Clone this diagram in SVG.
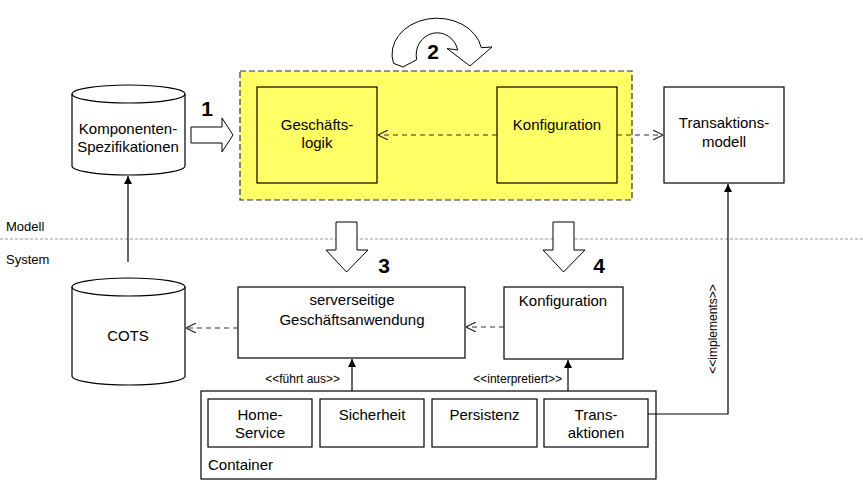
<svg xmlns="http://www.w3.org/2000/svg" width="863" height="480" viewBox="0 0 863 480">
<defs>
<marker id="open" viewBox="0 0 10 10" refX="10" refY="5" markerWidth="10" markerHeight="10" markerUnits="userSpaceOnUse" orient="auto">
<path d="M0,0 L10,5 L0,10" fill="none" stroke="#333" stroke-width="1.2"/>
</marker>
<marker id="solid" viewBox="0 0 10 10" refX="10" refY="5" markerWidth="8" markerHeight="8" markerUnits="userSpaceOnUse" orient="auto">
<path d="M0,0 L10,5 L0,10 Z" fill="#000"/>
</marker>
<style>
text{font-family:"Liberation Sans",Arial,sans-serif;fill:#000}
.lbl{font-size:15px;text-anchor:middle}
.sm{font-size:12px}
.num{font-size:21px;font-weight:bold}
.box{fill:#fff;stroke:#000;stroke-width:1.2}
.ybox{fill:#ffff66;stroke:#000;stroke-width:1.2}
.dash{fill:none;stroke:#333;stroke-width:1.2;stroke-dasharray:5,4}
.line{fill:none;stroke:#000;stroke-width:1.2}
.block{fill:#fff;stroke:#000;stroke-width:1}
</style>
</defs>

<line x1="0" y1="239" x2="863" y2="239" stroke="#999" stroke-width="1" stroke-dasharray="3,2"/>
<text x="6" y="231" font-size="13">Modell</text>
<text x="6" y="264" font-size="13">System</text>

<g id="modell-area">
<rect x="240" y="71" width="392" height="129" fill="#ffff66" stroke="#333" stroke-width="1.2" stroke-dasharray="6,3"/>
</g>
<g id="geschaeftslogik">
<rect class="ybox" x="257" y="87" width="120" height="96"/>
<text class="lbl" x="317" y="130">Geschäfts-</text>
<text class="lbl" x="317" y="148">logik</text>
</g>
<g id="konfiguration-modell">
<rect class="ybox" x="497" y="87" width="120" height="96"/>
<text class="lbl" x="557" y="130">Konfiguration</text>
</g>
<g id="transaktionsmodell">
<rect class="box" x="664" y="87" width="120" height="96"/>
<text class="lbl" x="724" y="128">Transaktions-</text>
<text class="lbl" x="724" y="147">modell</text>
</g>
<g id="komponenten">
<path class="box" d="M72,94 A56.5,9 0 0 1 185,94 L185,166 A56.5,9 0 0 1 72,166 Z"/>
<path class="line" d="M72,94 A56.5,9 0 0 0 185,94"/>
<text class="lbl" x="128" y="134">Komponenten-</text>
<text class="lbl" x="128" y="152">Spezifikationen</text>
</g>
<g id="cots">
<path class="box" d="M72,287 A56.5,9 0 0 1 185,287 L185,376 A56.5,9 0 0 1 72,376 Z"/>
<path class="line" d="M72,287 A56.5,9 0 0 0 185,287"/>
<text class="lbl" x="128" y="341">COTS</text>
</g>
<g id="serverseitige">
<rect class="box" x="238" y="287" width="227" height="71"/>
<text class="lbl" x="352" y="305">serverseitige</text>
<text class="lbl" x="352" y="325">Geschäftsanwendung</text>
</g>
<g id="konfiguration-system">
<rect class="box" x="504" y="287" width="119" height="72"/>
<text class="lbl" x="563" y="306">Konfiguration</text>
</g>
<g id="container">
<rect class="box" x="201" y="391" width="455" height="88"/>
<text x="208" y="470" font-size="15">Container</text>
</g>
<g id="home-service">
<rect class="box" x="208" y="399" width="104" height="48"/>
<text class="lbl" x="260" y="420">Home-</text>
<text class="lbl" x="260" y="438">Service</text>
</g>
<g id="sicherheit">
<rect class="box" x="320" y="399" width="104" height="48"/>
<text class="lbl" x="372" y="420">Sicherheit</text>
</g>
<g id="persistenz">
<rect class="box" x="432" y="399" width="105" height="48"/>
<text class="lbl" x="484.5" y="420">Persistenz</text>
</g>
<g id="transaktionen">
<rect class="box" x="544" y="399" width="104" height="48"/>
<text class="lbl" x="596" y="420">Trans-</text>
<text class="lbl" x="596" y="438">aktionen</text>
</g>

<g id="connectors">
<line class="dash" x1="497" y1="135" x2="378" y2="135" marker-end="url(#open)"/>
<line class="dash" x1="617" y1="135" x2="663" y2="135" marker-end="url(#open)"/>
<line class="dash" x1="238" y1="328" x2="186" y2="328" marker-end="url(#open)"/>
<line class="dash" x1="504" y1="327" x2="466" y2="327" marker-end="url(#open)"/>
<line class="line" x1="128" y1="262" x2="128" y2="176" marker-end="url(#solid)"/>
<line class="line" x1="352" y1="391" x2="352" y2="359" marker-end="url(#solid)"/>
<line class="line" x1="568" y1="391" x2="568" y2="360" marker-end="url(#solid)"/>
<path class="line" d="M648,414 L728,414 L728,184" marker-end="url(#solid)"/>
<text class="sm" x="340" y="383" text-anchor="end">&lt;&lt;führt aus&gt;&gt;</text>
<text class="sm" x="562" y="383" text-anchor="end">&lt;&lt;interpretiert&gt;&gt;</text>
<text class="sm" x="0" y="0" text-anchor="middle" transform="translate(717,329) rotate(-90)">&lt;&lt;implements&gt;&gt;</text>

<path class="block" d="M191,127 L222,127 L222,118 L233,135 L222,152 L222,143 L191,143 Z"/>
<text class="num" x="207" y="116" text-anchor="middle">1</text>
<path class="block" d="M393.5,63.3 A45,36 0 1 1 481.3,47.7 L492,47 L470,66 L447,48.5 L457.7,50 A21,22 0 1 0 416.7,59.7 L403,67 Z"/>
<text class="num" x="433" y="59" text-anchor="middle">2</text>
<path class="block" d="M336,222 L357,222 L357,250 L368,250 L346.5,272 L326,250 L336,250 Z"/>
<text class="num" x="384" y="273" text-anchor="middle">3</text>
<path class="block" d="M553,222 L574,222 L574,250 L585,250 L563.5,272 L543,250 L553,250 Z"/>
<text class="num" x="599" y="273" text-anchor="middle">4</text>
</g>
</svg>
